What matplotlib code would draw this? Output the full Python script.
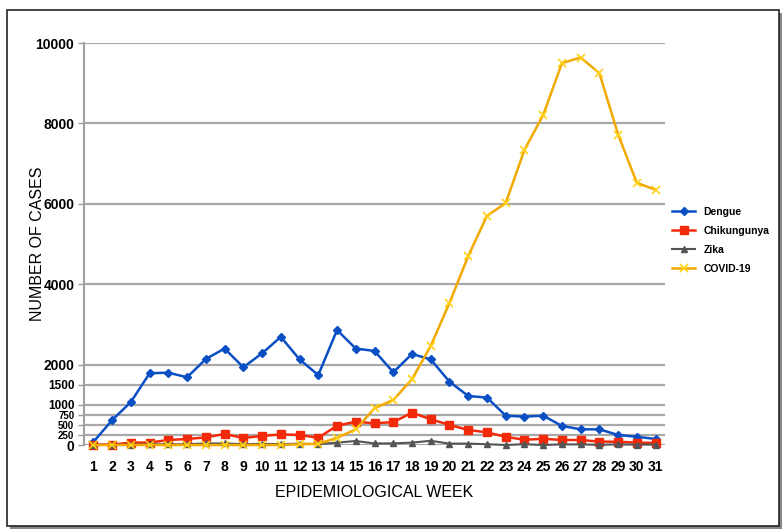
import numpy as np
import matplotlib.pyplot as plt
from matplotlib.patches import Rectangle

plt.rcParams['font.family'] = ['Liberation Sans', 'DejaVu Sans']

weeks = list(range(1, 32))

dengue = [75, 620, 1070, 1785, 1800, 1685, 2140, 2400, 1935, 2280, 2690, 2130, 1740,
          2860, 2400, 2340, 1810, 2265, 2130, 1575, 1220, 1180, 730, 705, 730,
          475, 390, 390, 250, 205, 150]
chikungunya = [10, 10, 60, 60, 125, 150, 190, 275, 175, 225, 265, 250, 180,
               480, 580, 540, 570, 805, 640, 500, 375, 315, 205, 130, 155,
               125, 125, 85, 80, 60, 50]
zika = [5, 5, 10, 15, 20, 20, 40, 40, 20, 30, 20, 35, 20,
        60, 100, 40, 40, 60, 105, 35, 35, 20, 0, 20, 0,
        15, 15, 5, 15, 10, 10]
covid = [0, 0, 0, 0, 0, 0, 0, 0, 0, 0, 0, 20, 30,
         180, 390, 915, 1120, 1635, 2465, 3535, 4700, 5700, 6020, 7340, 8210,
         9500, 9640, 9250, 7720, 6520, 6350]

ytick_vals = [0, 250, 500, 750, 1000, 1500, 2000, 4000, 6000, 8000, 10000]
ytick_sizes = [10, 7, 7, 7, 8.5, 8.5, 10, 10, 10, 10, 10]

fig = plt.figure(figsize=(7.83, 5.32), dpi=100)
ax = fig.add_axes([0.1073, 0.1635, 0.742, 0.7556])

ax.plot(weeks, dengue, color='#0b4fc4', lw=1.8, marker='D', ms=4.5,
        label='Dengue', clip_on=False, zorder=4)
ax.plot(weeks, chikungunya, color='#f22a0a', lw=1.8, marker='s', ms=6,
        label='Chikungunya', clip_on=False, zorder=4)
ax.plot(weeks, zika, color='#555555', lw=1.5, marker='^', ms=5,
        label='Zika', clip_on=False, zorder=4)
ax.plot(weeks, covid, color='#f2a900', lw=1.8, marker='x', ms=6, mew=1.2,
        mec='#ffd21a', label='COVID-19', clip_on=False, zorder=5)

ax.set_xlim(0.5, 31.5)
ax.set_ylim(0, 10000)
ax.set_xticks(weeks)
ax.set_xticklabels([str(w) for w in weeks], fontsize=10, fontweight='bold')
ax.set_yticks(ytick_vals)
ax.set_yticklabels([str(v) for v in ytick_vals], fontweight='bold')
for lab, s in zip(ax.get_yticklabels(), ytick_sizes):
    lab.set_fontsize(s)

ax.tick_params(axis='x', length=0, pad=11)
ax.tick_params(axis='y', length=4, color='#999999', width=1, pad=3)
ax.yaxis.grid(True, color='#a8a8a8', lw=1.6)
ax.set_axisbelow(True)
for side in ['top', 'right', 'bottom']:
    ax.spines[side].set_visible(False)
ax.spines['left'].set_color('#a0a0a0')
ax.spines['left'].set_linewidth(1.5)

ax.set_xlabel('EPIDEMIOLOGICAL WEEK', fontsize=11.5, labelpad=8)
ax.set_ylabel('NUMBER OF CASES', fontsize=11.5, labelpad=-8)
ax.yaxis.set_label_coords(-0.068, 0.5)

ax.legend(loc='upper left', bbox_to_anchor=(1.0, 0.61), frameon=False,
          prop={'weight': 'bold', 'size': 7.5}, handlelength=2.2,
          labelspacing=0.85, borderaxespad=0.3)

# outer frame with shadow
fig.patches.append(Rectangle((10 / 783, 1 - 529 / 532), 772 / 783, 516 / 532,
                             transform=fig.transFigure, facecolor='#888888',
                             edgecolor='none', zorder=-2))
fig.patches.append(Rectangle((7 / 783, 1 - 526 / 532), 772 / 783, 516 / 532,
                             transform=fig.transFigure, facecolor='white',
                             edgecolor='#222222', lw=1.2, zorder=-1))

fig.savefig('out.png', dpi=100)
